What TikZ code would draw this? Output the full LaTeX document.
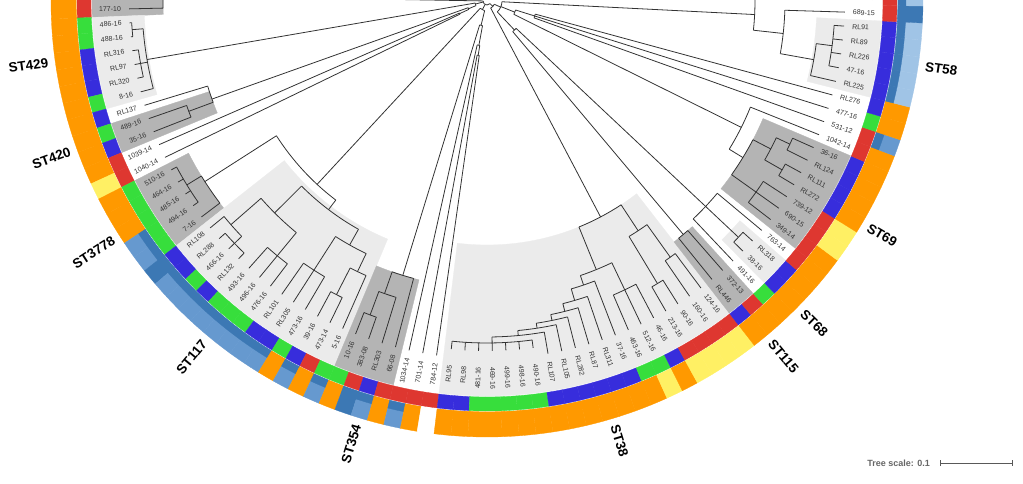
\documentclass[tikz,border=0pt]{standalone}
\usepackage{fontspec}
\setmainfont{Liberation Sans}
\usetikzlibrary{arrows.meta}

\definecolor{rd}{RGB}{222,55,48}
\definecolor{bl}{RGB}{55,45,220}
\definecolor{gr}{RGB}{55,222,60}
\definecolor{or}{RGB}{255,153,0}
\definecolor{ye}{RGB}{255,240,100}
\definecolor{sb}{RGB}{60,120,180}
\definecolor{lb}{RGB}{102,153,207}
\definecolor{pb}{RGB}{160,196,230}
\definecolor{no}{RGB}{255,255,255}
\definecolor{hlight}{RGB}{235,235,235}
\definecolor{hdark}{RGB}{180,180,180}

% leaf k sits at 183.5 + 2.24 k degrees
\newcommand{\brstem}[3]{\draw[branch] ({183.5+2.24*(#1)}:#2) -- ({183.5+2.24*(#1)}:#3);}
\newcommand{\brarc}[3]{\draw[branch] ({183.5+2.24*(#2)}:#1) arc[start angle={183.5+2.24*(#2)}, end angle={183.5+2.24*(#3)}, radius=#1];}
\newcommand{\clade}[5]{\brstem{#1}{#2}{#3}\brarc{#3}{#4}{#5}}
\newcommand{\brtip}[2]{\brstem{#1}{#2}{358}}
\newcommand{\ringseg}[5]{\fill[#5, draw=#5, line width=0.3pt] ({183.5+2.24*(#1)}:#3) arc[start angle={183.5+2.24*(#1)}, end angle={183.5+2.24*(#2)}, radius=#3] -- ({183.5+2.24*(#2)}:#4) arc[start angle={183.5+2.24*(#2)}, end angle={183.5+2.24*(#1)}, radius=#4] -- cycle;}

\begin{document}
\begin{tikzpicture}[
    x=1pt, y=1pt,
    branch/.style={line width=0.8pt, black!80},
    leaflab/.style={font=\fontsize{7}{8}\selectfont, text=black!80, inner sep=0pt},
    stlab/.style={font=\fontsize{13.5}{14}\selectfont\bfseries, inner sep=0pt},
    scaletext/.style={font=\fontsize{9}{10}\selectfont\bfseries, text=black!60, inner sep=0pt},
    scalebar/.style={{Bar[width=6pt]}-{Bar[width=6pt]}, line width=0.9pt, black!65},
]
\useasboundingbox (-487,-483) rectangle (536,1);
\clip (-487,-483) rectangle (536,1);

% clade highlights
\foreach \ha/\hb/\hr/\hc in {-3.5/-0.5/324/hdark, -0.5/5.5/343/hlight, 6.5/8.5/292/hdark,
    10.5/15.5/335/hdark, 15.5/28.5/258/hlight, 28.5/32.5/287/hdark, 35.5/55.5/244/hlight,
    55.5/57.5/305/hdark, 58.5/60.5/335/hlight, 61.5/68.5/300/hdark, 72.5/77.5/330/hlight}
  {\ringseg{\ha}{\hb}{\hr}{395}{\hc}}

% colour strips
\foreach \col [count=\i from -2] in {rd,rd, gr,gr, bl,bl,bl, gr, bl, gr, bl, rd,rd,
    gr,gr,gr,gr,gr, bl,bl, gr, bl, gr,gr,gr, bl,bl, gr, bl, rd, gr,gr, rd, bl, rd,rd,rd,rd,
    bl,bl, gr,gr,gr,gr,gr, bl,bl,bl,bl,bl,bl, gr,gr, bl, rd,rd,rd,rd, bl, rd, gr, bl,bl,
    rd,rd,rd,rd, bl,bl,bl,bl, rd,rd, gr, bl,bl,bl,bl,bl,bl, rd,rd,rd}
  {\ringseg{\i-0.5}{\i+0.5}{396}{410}{\col}}
\foreach \col [count=\i from -2] in {or,or,or,or,or,or,or,or,or,or,or,or, ye, or,or,or,
    lb,lb, sb, lb,lb,lb,lb,lb,lb,lb,lb, or, lb, or, lb, or, sb, lb, or, lb, or, no,
    or,or,or,or,or,or,or,or,or,or,or,or,or,or, ye, or, ye,ye,ye,ye, or,or,or,or,or,or,or,
    ye,ye, or,or,or,or,or, lb, or,or, pb,pb,pb,pb,pb, sb, pb,pb}
  {\ringseg{\i-0.5}{\i+0.5}{411}{436}{\col}}
\foreach \col [count=\i from -2] in {or,or,or,or,or,or,or,or,or,or,or,or, ye, or,or,or,
    sb,sb, sb, sb,sb,sb,sb,sb,sb,sb,sb, or, sb, or, sb, or, sb, sb, or, sb, or, no,
    or,or,or,or,or,or,or,or,or,or,or,or,or,or, ye, or, ye,ye,ye,ye, or,or,or,or,or,or,or,
    ye,ye, or,or,or,or,or, sb, or,or, sb,sb,sb,sb,sb, sb, sb,sb}
  {\ringseg{\i-0.5}{\i+0.5}{411}{419}{\col}}

% tree
\brarc{4}{-2}{60}
\clade{-2}{4}{324}{-3}{-1}
\brtip{-3}{324} \brtip{-1}{324}
% left group
\clade{5}{4}{12}{2.8}{8.6}
\clade{2.8}{12}{345}{0.5}{5}
\clade{0.5}{345}{356}{0}{1}
\clade{3}{345}{352}{2}{4}
\foreach \k in {0,1}{\brtip{\k}{356}}
\foreach \k in {2,3,4}{\brtip{\k}{352}}
\brtip{5}{345}
\clade{8.6}{12}{20}{7.2}{9.5}
\clade{7.2}{20}{292}{6}{7.5}
\brtip{6}{292}
\clade{7.5}{292}{318}{7}{8}
\foreach \k in {7,8}{\brtip{\k}{318}}
\clade{9.5}{20}{30}{9}{10}
\foreach \k in {9,10}{\brtip{\k}{30}}
% middle group
\clade{26}{4}{10}{19.5}{32.5}
\clade{19.5}{10}{250}{13}{22}
\clade{13}{250}{335}{12.5}{15}
\clade{12.5}{335}{352}{11}{14}
\foreach \k in {11,...,14}{\brtip{\k}{352}}
\brtip{15}{335}
\clade{22}{250}{262}{18.5}{25.5}
\clade{18.5}{262}{300}{16.8}{21}
\clade{16.8}{300}{340}{16}{18}
\brtip{16}{340}
\clade{18}{340}{350}{17}{19}
\foreach \k in {17,18,19}{\brtip{\k}{350}}
\clade{21}{300}{330}{20}{22}
\foreach \k in {20,21,22}{\brtip{\k}{330}}
\clade{25.5}{262}{280}{24}{27.2}
\clade{24}{280}{320}{23}{25}
\foreach \k in {23,24,25}{\brtip{\k}{320}}
\clade{27.2}{280}{300}{26.5}{28}
\clade{26.5}{300}{330}{26}{27}
\foreach \k in {26,27}{\brtip{\k}{330}}
\brtip{28}{300}
\clade{32.5}{10}{25}{31}{34}
\clade{31}{25}{287}{30}{32}
\clade{30}{287}{310}{29.5}{31}
\clade{29.5}{310}{335}{29}{30}
\foreach \k in {29,30}{\brtip{\k}{335}}
\brtip{31}{310}
\brtip{32}{287}
\clade{34}{25}{45}{33}{34.5}
\brtip{33}{45}
\clade{34.5}{45}{55}{34}{35}
\foreach \k in {34,35}{\brtip{\k}{55}}
% right group
\clade{60}{4}{8}{51}{68}
\clade{51}{8}{244}{48.5}{53.5}
\clade{53.5}{244}{275}{52.5}{54.5}
\clade{52.5}{275}{330}{52}{53}
\clade{54.5}{275}{315}{54}{55}
\foreach \k in {52,53}{\brtip{\k}{330}}
\foreach \k in {54,55}{\brtip{\k}{315}}
\clade{48.5}{244}{290}{47}{50}
\clade{50}{290}{320}{49}{51}
\foreach \k in {49,50,51}{\brtip{\k}{320}}
\clade{47}{290}{300}{45.9}{48} \brtip{48}{300}
\clade{45.9}{300}{312}{44.9}{47} \brtip{47}{312}
\clade{44.9}{312}{320}{43.75}{46} \brtip{46}{320}
\clade{43.75}{320}{326}{42.5}{45} \brtip{45}{326}
\clade{42.5}{326}{331}{41}{44} \brtip{44}{331}
\clade{41}{331}{336}{39}{43} \brtip{43}{336}
\clade{39}{336}{342}{36}{42}
\foreach \k in {36,...,42}{\brstem{\k}{342}{350}}
\clade{68}{8}{15}{58}{77.5}
\clade{58}{15}{40}{56.5}{59.5}
\clade{56.5}{40}{305}{56}{57}
\foreach \k in {56,57}{\brtip{\k}{305}}
\clade{59.5}{40}{300}{58}{61}
\brtip{58}{300} \brtip{61}{300}
\clade{59.5}{300}{345}{59}{60}
\foreach \k in {59,60}{\brtip{\k}{345}}
\clade{69}{15}{30}{67}{71}
\clade{67}{30}{284}{64.75}{69}
\brtip{69}{284}
\clade{64.75}{284}{300}{63}{66.5}
\clade{63}{300}{330}{62}{64}
\foreach \k in {62,63,64}{\brtip{\k}{330}}
\clade{66.5}{300}{320}{65.5}{67.5}
\clade{65.5}{320}{340}{65}{66}
\clade{67.5}{320}{335}{67}{68}
\foreach \k in {65,66}{\brtip{\k}{340}}
\foreach \k in {67,68}{\brtip{\k}{335}}
\clade{71}{30}{50}{70}{72}
\foreach \k in {70,71,72}{\brtip{\k}{50}}
\clade{77.5}{15}{268}{76}{79}
\brtip{79}{268}
\clade{76}{268}{298}{74.25}{78}
\brtip{78}{298}
\clade{74.25}{298}{332}{73}{75.5}
\brtip{73}{332}
\clade{75.5}{332}{348}{74}{77}
\foreach \k in {74,...,77}{\brtip{\k}{348}}

% leaf labels
\foreach \lab [count=\i from -1] in {177-10, 486-16, 488-16, RL316, RL97, RL320, 8-16, RL137,
    489-16, 35-16, 1039-14, 1040-14, 510-16, 464-16, 485-16, 494-16, 7-16, RL108, RL288,
    466-16, RL132, 493-16, 496-16, 476-16, RL101, RL305, 473-16, 39-16, 473-14, 5-16, 10-16,
    383-08, RL303, 66-08, 1034-14, 701-14, 784-12, RL95, RL98, 481-16, 469-16, 499-16,
    498-16, 490-16, RL107, RL105, RL282, RL87, RL311, 37-16, 463-16, 512-16, 46-16, 213-16,
    90-16, 160-16, 124-16, RL446, 372-13, 491-16, 38-16, RL318, 763-14, 349-14, 690-15,
    739-12, RL272, RL111, RL124, 36-16, 1042-14, 531-12, 477-16, RL276, RL225, 47-16,
    RL226, RL89, RL91, 689-15, 721-15}{
  \pgfmathsetmacro\la{183.5+2.24*\i}
  \ifdim\la pt<270pt
    \node[leaflab, anchor=east, rotate=\la-180] (leaf\i) at (\la:366) {\lab};
  \else
    \node[leaflab, anchor=west, rotate=\la] (leaf\i) at (\la:366) {\lab};
  \fi
}

% sequence types
\foreach \p/\st in {2.0/ST429, 7.3/ST420, 13/ST3778, 20.9/ST117, 31/ST354, 46.1/ST38,
    56.4/ST115, 58.9/ST68, 65.1/ST69, 75/ST58}{
  \pgfmathsetmacro\la{183.5+2.24*\p}
  \ifdim\la pt<270pt
    \node[stlab, anchor=east, rotate=\la-180] (lab\st) at (\la:443) {\st};
  \else
    \node[stlab, anchor=west, rotate=\la] (lab\st) at (\la:443) {\st};
  \fi
}

% tree scale
\node[scaletext, anchor=east] (scale) at (443,-462) {Tree scale: 0.1};
\coordinate (bar0) at (453,-462);
\coordinate (bar1) at (526,-462);
\draw[scalebar] (bar0) -- (bar1);
\end{tikzpicture}
\end{document}
